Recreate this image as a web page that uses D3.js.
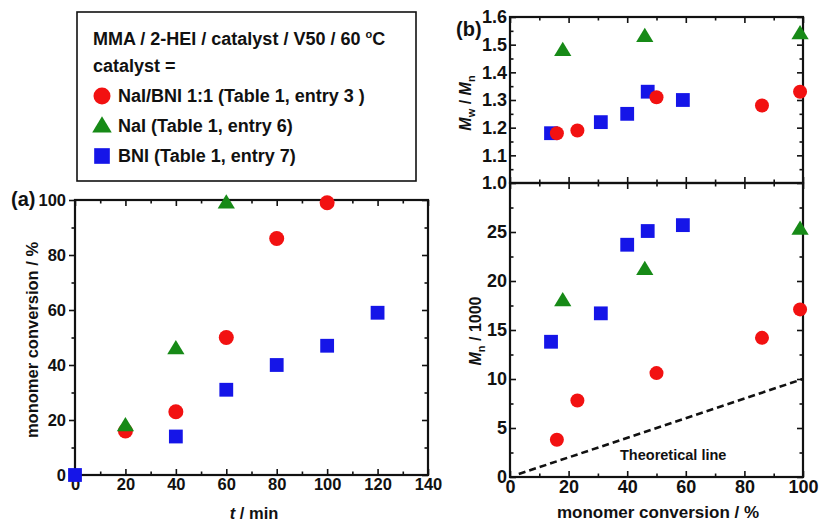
<!DOCTYPE html>
<html lang="en">
<head>
  <meta charset="UTF-8">
  <title>MMA / 2-HEI polymerization</title>
  <script src="https://d3js.org/d3.v7.min.js"></script>
  <style>
    body { margin: 0; background: #fff; }
    text {
      font-family: 'Liberation Sans', Arial, sans-serif;
      font-weight: bold;
      fill: #111;
    }
    .pa .tick text { font-size: 16.5px; }
    .pb .tick text { font-size: 18px; }
    .tick line { stroke: #111; stroke-width: 1.6; }
    .domain { display: none; }
  </style>
</head>
<body>
  <svg width="819" height="524"></svg>

  <script>
    const svg = d3.select("svg");

    // series names (legend)
    const seriesNames = ["NaI/BNI 1:1 (Table 1, entry 3 )", "NaI (Table 1, entry 6)", "BNI (Table 1, entry 7)"];
    const seriesColors = ["#f21111", "#178a17", "#1515e8"];
    const seriesShapes = ["circle", "triangle", "square"];

    // (a) conversion vs time
    const timeA = [0, 20, 40, 60, 80, 100];
    const convA = [null, 16, 23, 50, 86, 99];
    const timeB = [20, 40, 60];
    const convB = [18, 46, 99];
    const timeC = [0, 40, 60, 80, 100, 120];
    const convC = [0, 14, 31, 40, 47, 59];

    // (b) vs conversion
    const xA = [16, 23, 50, 86, 99];
    const pdiA = [1.18, 1.19, 1.31, 1.28, 1.33];
    const mnA = [3.8, 7.8, 10.6, 14.2, 17.1];
    const xB = [18, 46, 99];
    const pdiB = [1.48, 1.53, 1.54];
    const mnB = [18.0, 21.2, 25.3];
    const xC = [14, 31, 40, 47, 59];
    const pdiC = [1.18, 1.22, 1.25, 1.33, 1.30];
    const mnC = [13.8, 16.7, 23.7, 25.1, 25.7];

    // theoretical line
    const theoX = [3, 100];
    const theoY = [0.3, 10];

    function zipPts(xs, ys) {
      return xs.map((v, i) => ({ x: v, y: ys[i] })).filter(d => d.y != null);
    }

    // s ~ half size of the marker
    function marker(g, shape, color, cx, cy, s) {
      if (shape === "circle") {
        g.append("circle").attr("cx", cx).attr("cy", cy).attr("r", s).attr("fill", color);
      } else if (shape === "square") {
        g.append("rect").attr("x", cx - s * 0.92).attr("y", cy - s * 0.92)
          .attr("width", s * 1.84).attr("height", s * 1.84).attr("fill", color);
      } else {
        const h = s * 1.9, w = s * 2.3;
        g.append("path")
          .attr("d", `M${cx},${cy - h * 0.6}L${cx + w / 2},${cy + h * 0.4}L${cx - w / 2},${cy + h * 0.4}Z`)
          .attr("fill", color);
      }
    }

    // frame with ticks on all four sides
    function frame(cls, x, y, o) {
      const g = svg.append("g").attr("class", cls);
      const [x0, x1] = x.range();
      const [y0, y1] = y.range();
      const ins = 6, insMin = 3.5;
      const leftDir = o.leftOut ? 1 : -1;

      const addAxis = (axisFn, scale, tv, len, pos, labels) => {
        const ax = axisFn(scale).tickValues(tv).tickSize(len).tickPadding(o.pad || 5);
        if (!labels) ax.tickFormat("");
        else if (o.fmt && labels === "y") ax.tickFormat(o.fmt);
        g.append("g").attr("transform", pos).call(ax);
      };

      addAxis(d3.axisBottom, x, o.xMajor, -ins, `translate(0,${y0})`, o.xLabels ? "x" : null);
      addAxis(d3.axisBottom, x, o.xMinor, -insMin, `translate(0,${y0})`, null);
      addAxis(d3.axisTop, x, o.xMajor, -ins, `translate(0,${y1})`, null);
      addAxis(d3.axisTop, x, o.xMinor, -insMin, `translate(0,${y1})`, null);
      addAxis(d3.axisLeft, y, o.yMajor, leftDir * ins, `translate(${x0},0)`, "y");
      addAxis(d3.axisLeft, y, o.yMinor, leftDir * insMin, `translate(${x0},0)`, null);
      addAxis(d3.axisRight, y, o.yMajor, -ins, `translate(${x1},0)`, null);
      addAxis(d3.axisRight, y, o.yMinor, -insMin, `translate(${x1},0)`, null);

      g.append("rect")
        .attr("x", x0).attr("y", y1).attr("width", x1 - x0).attr("height", y0 - y1)
        .attr("fill", "none").attr("stroke", "#111").attr("stroke-width", 2.2);
      return g;
    }

    function plotSeries(g, x, y, pts, shape, color, s) {
      pts.forEach(d => marker(g, shape, color, x(d.x), y(d.y), s));
    }

    // ---------- panel (a) ----------
    const xa = d3.scaleLinear().domain([0, 140]).range([75, 428]);
    const ya = d3.scaleLinear().domain([0, 100]).range([475, 200]);
    frame("pa", xa, ya, {
      xMajor: d3.range(0, 141, 20), xMinor: d3.range(10, 140, 20),
      yMajor: d3.range(0, 101, 20), yMinor: d3.range(10, 100, 20),
      xLabels: true, leftOut: true, pad: 3
    });
    const ga = svg.append("g");
    plotSeries(ga, xa, ya, zipPts(timeA, convA), "circle", seriesColors[0], 7.5);
    plotSeries(ga, xa, ya, zipPts(timeB, convB), "triangle", seriesColors[1], 7.5);
    plotSeries(ga, xa, ya, zipPts(timeC, convC), "square", seriesColors[2], 7.5);

    svg.append("text").attr("x", 11).attr("y", 206).style("font-size", "20px").text("(a)");
    svg.append("text")
      .attr("transform", "translate(38,340) rotate(-90)")
      .attr("text-anchor", "middle").style("font-size", "16.5px")
      .text("monomer conversion / %");
    const tl = svg.append("text").attr("x", 254).attr("y", 519)
      .attr("text-anchor", "middle").style("font-size", "16.5px");
    tl.append("tspan").style("font-style", "italic").text("t");
    tl.append("tspan").text(" / min");

    // ---------- panel (b) ----------
    const xb = d3.scaleLinear().domain([0, 100]).range([510, 803]);
    const yb1 = d3.scaleLinear().domain([1.0, 1.6]).range([183, 17]);
    const yb2 = d3.scaleLinear().domain([0, 30]).range([477, 183]);

    frame("pb", xb, yb1, {
      xMajor: d3.range(0, 101, 20), xMinor: d3.range(10, 100, 20),
      yMajor: d3.range(1.0, 1.61, 0.1), yMinor: d3.range(1.05, 1.6, 0.1),
      xLabels: false, fmt: d3.format(".1f"), pad: 3
    });
    frame("pb", xb, yb2, {
      xMajor: d3.range(0, 101, 20), xMinor: d3.range(10, 100, 20),
      yMajor: d3.range(0, 26, 5), yMinor: d3.range(2.5, 30, 5),
      xLabels: true, pad: 3
    });

    // theoretical line
    const line = d3.line().x(d => xb(d.x)).y(d => yb2(d.y));
    svg.append("path").datum(zipPts(theoX, theoY))
      .attr("d", line).attr("fill", "none").attr("stroke", "#111")
      .attr("stroke-width", 2.6).attr("stroke-dasharray", "7,4");
    svg.append("text").attr("x", 620).attr("y", 460).style("font-size", "14.5px").text("Theoretical line");

    const gb = svg.append("g");
    plotSeries(gb, xb, yb1, zipPts(xC, pdiC), "square", seriesColors[2], 7.5);
    plotSeries(gb, xb, yb1, zipPts(xA, pdiA), "circle", seriesColors[0], 7);
    plotSeries(gb, xb, yb1, zipPts(xB, pdiB), "triangle", seriesColors[1], 7.5);
    plotSeries(gb, xb, yb2, zipPts(xC, mnC), "square", seriesColors[2], 7.5);
    plotSeries(gb, xb, yb2, zipPts(xA, mnA), "circle", seriesColors[0], 7);
    plotSeries(gb, xb, yb2, zipPts(xB, mnB), "triangle", seriesColors[1], 7.5);

    svg.append("text").attr("x", 456).attr("y", 36).style("font-size", "20px").text("(b)");

    const mw = svg.append("text")
      .attr("transform", "translate(471,103) rotate(-90)")
      .attr("text-anchor", "middle").style("font-size", "16px");
    mw.append("tspan").style("font-style", "italic").text("M");
    mw.append("tspan").attr("dy", 4).style("font-size", "11px").text("w");
    mw.append("tspan").attr("dy", -4).text(" / ");
    mw.append("tspan").style("font-style", "italic").text("M");
    mw.append("tspan").attr("dy", 4).style("font-size", "11px").text("n");

    const mn = svg.append("text")
      .attr("transform", "translate(481,331) rotate(-90)")
      .attr("text-anchor", "middle").style("font-size", "16px");
    mn.append("tspan").style("font-style", "italic").text("M");
    mn.append("tspan").attr("dy", 4).style("font-size", "11px").text("n");
    mn.append("tspan").attr("dy", -4).text(" / 1000");

    svg.append("text").attr("x", 658).attr("y", 518)
      .attr("text-anchor", "middle").style("font-size", "17px")
      .text("monomer conversion / %");

    // ---------- legend ----------
    const lg = svg.append("g");
    lg.append("rect").attr("x", 77).attr("y", 12).attr("width", 339).attr("height", 169)
      .attr("fill", "#fff").attr("stroke", "#111").attr("stroke-width", 1.6);
    const t1 = lg.append("text").attr("x", 93).attr("y", 45).style("font-size", "18px");
    t1.append("tspan").text("MMA / 2-HEI / catalyst / V50 / 60 ");
    t1.append("tspan").attr("dy", -7).style("font-size", "11px").text("o");
    t1.append("tspan").attr("dy", 7).text("C");
    lg.append("text").attr("x", 93).attr("y", 72).style("font-size", "18px").text("catalyst =");
    seriesNames.forEach((name, i) => {
      const yy = 102 + i * 30;
      marker(lg, seriesShapes[i], seriesColors[i], 102, yy - 6, 8.5);
      lg.append("text").attr("x", 118).attr("y", yy).style("font-size", "18px").text(name);
    });
  </script>
</body>
</html>
